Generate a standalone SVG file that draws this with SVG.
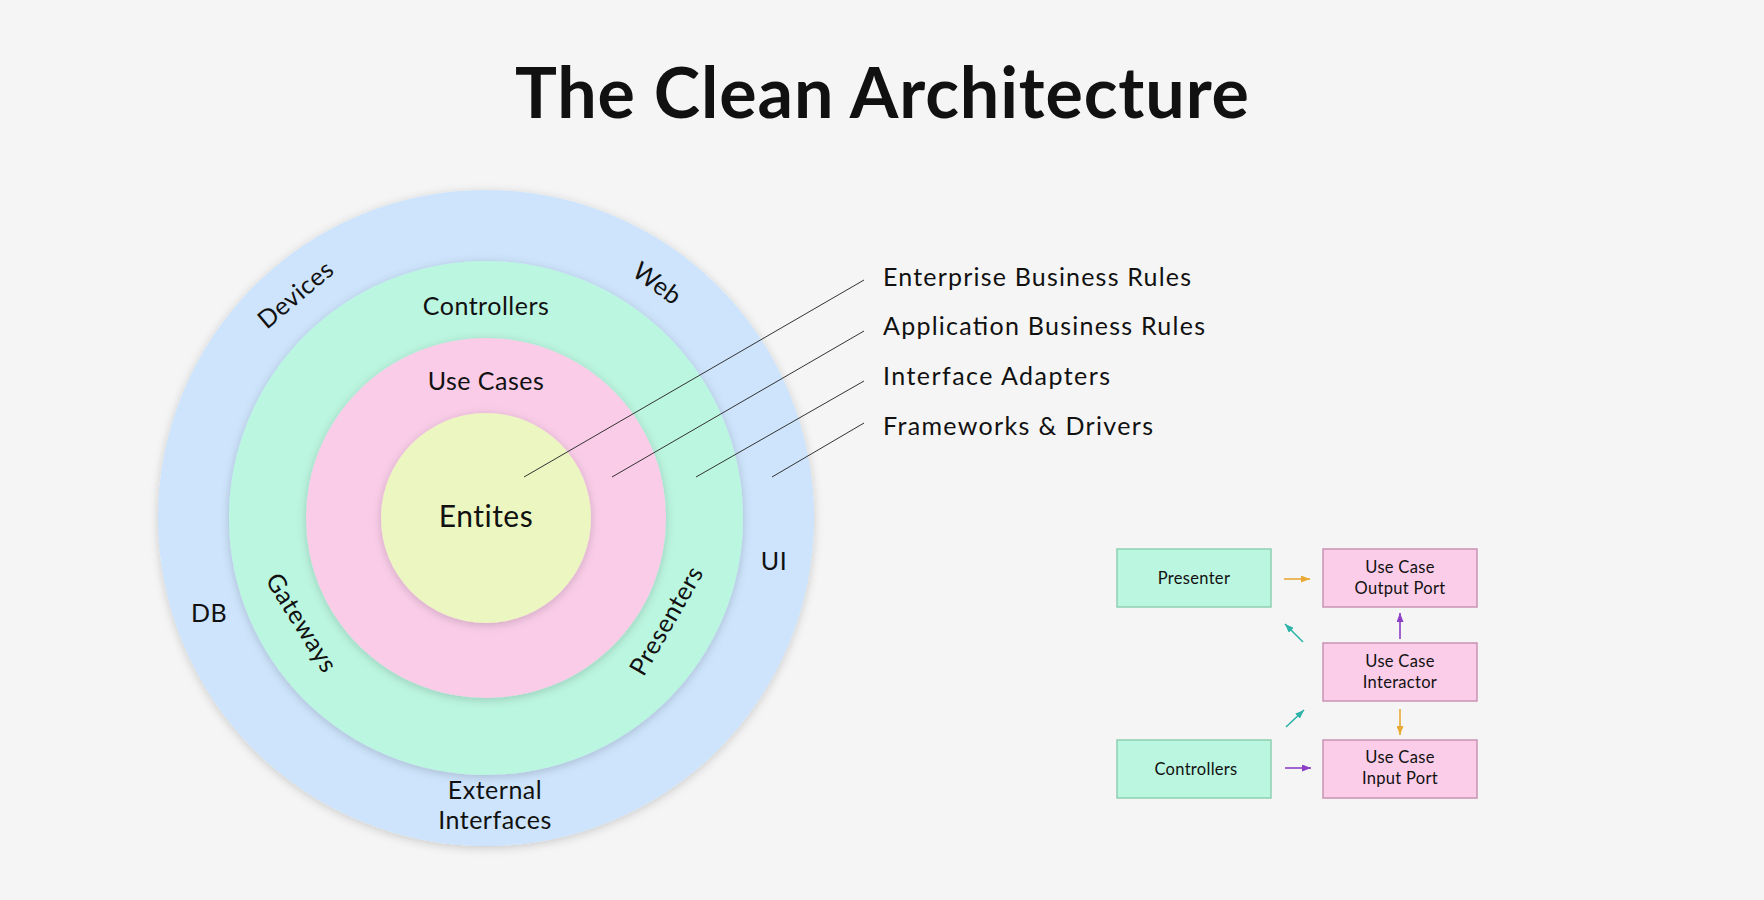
<svg xmlns="http://www.w3.org/2000/svg" width="1764" height="900" viewBox="0 0 1764 900">
<defs>
<filter id="sh" x="-20%" y="-20%" width="140%" height="140%">
<feDropShadow dx="0" dy="2" stdDeviation="5" flood-color="#000" flood-opacity="0.18"/>
</filter>
<marker id="aO" markerUnits="userSpaceOnUse" markerWidth="9" markerHeight="7" refX="9" refY="3.5" orient="auto"><path d="M0,0 L9,3.5 L0,7 z" fill="#eaa935"/></marker>
<marker id="aP" markerUnits="userSpaceOnUse" markerWidth="9" markerHeight="7" refX="9" refY="3.5" orient="auto"><path d="M0,0 L9,3.5 L0,7 z" fill="#8c3fc6"/></marker>
<marker id="aT" markerUnits="userSpaceOnUse" markerWidth="9" markerHeight="7" refX="9" refY="3.5" orient="auto"><path d="M0,0 L9,3.5 L0,7 z" fill="#2db3a7"/></marker>
</defs>
<style>
text{font-family:Lato,"Open Sans","Liberation Sans",sans-serif;fill:#111}
.t{font-size:70px;font-weight:700;text-anchor:middle}
.c{font-size:25px;letter-spacing:0.5px;text-anchor:middle}
.r{font-size:25px}
.b{font-size:16.5px;letter-spacing:0.3px;text-anchor:middle}
.gb{fill:#bbf6e0;stroke:#8ecfb3;stroke-width:1.5}
.pb{fill:#fbcde9;stroke:#c894b4;stroke-width:1.5}
.ln{stroke:#333;stroke-width:1;fill:none}
.o{stroke:#eaa935;stroke-width:1.6;marker-end:url(#aO)}
.p{stroke:#8c3fc6;stroke-width:1.6;marker-end:url(#aP)}
.tl{stroke:#2db3a7;stroke-width:1.6;marker-end:url(#aT)}
</style>
<rect width="1764" height="900" fill="#f5f5f5"/>
<text class="t" x="882" y="118" textLength="734" lengthAdjust="spacing">The Clean Architecture</text>

<g id="frameworks-drivers">
<circle cx="486" cy="518" r="328" fill="#cde4fc" filter="url(#sh)"/>
<text class="c" transform="translate(296,295) rotate(-40)" y="8">Devices</text>
<text class="c" transform="translate(657,284) rotate(36)" y="8">Web</text>
<text class="c" x="774" y="570">UI</text>
<text class="c" x="209" y="622">DB</text>
<text class="c" x="495" y="799">External</text>
<text class="c" x="495" y="829">Interfaces</text>
</g>
<g id="interface-adapters">
<circle cx="486" cy="518" r="257" fill="#bbf6e0" filter="url(#sh)"/>
<text class="c" x="486" y="315">Controllers</text>
<text class="c" transform="translate(301,623) rotate(58)" y="8">Gateways</text>
<text class="c" transform="translate(667,621) rotate(-60)" y="8">Presenters</text>
</g>
<g id="application-business-rules">
<circle cx="486" cy="518" r="180" fill="#facce8" filter="url(#sh)"/>
<text class="c" x="486" y="390">Use Cases</text>
</g>
<g id="enterprise-business-rules">
<circle cx="486" cy="518" r="105" fill="#ebf6c0" filter="url(#sh)"/>
<text class="c" x="486" y="527" style="font-size:30px">Entites</text>
</g>

<g id="layer-labels">
<text class="r" x="883" y="286" textLength="308" lengthAdjust="spacing">Enterprise Business Rules</text>
<text class="r" x="883" y="335" textLength="322" lengthAdjust="spacing">Application Business Rules</text>
<text class="r" x="883" y="385" textLength="227" lengthAdjust="spacing">Interface Adapters</text>
<text class="r" x="883" y="435" textLength="270" lengthAdjust="spacing">Frameworks &amp; Drivers</text>
</g>

<g id="presenter"><rect class="gb" x="1117" y="549" width="154" height="58"/><text class="b" x="1194" y="584">Presenter</text></g>
<g id="controllers"><rect class="gb" x="1117" y="740" width="154" height="58"/><text class="b" x="1196" y="775">Controllers</text></g>
<g id="output-port"><rect class="pb" x="1323" y="549" width="154" height="58"/><text class="b" x="1400" y="573">Use Case</text><text class="b" x="1400" y="594">Output Port</text></g>
<g id="interactor"><rect class="pb" x="1323" y="643" width="154" height="58"/><text class="b" x="1400" y="667">Use Case</text><text class="b" x="1400" y="688">Interactor</text></g>
<g id="input-port"><rect class="pb" x="1323" y="740" width="154" height="58"/><text class="b" x="1400" y="763">Use Case</text><text class="b" x="1400" y="784">Input Port</text></g>

<g id="connectors">
<line class="ln" x1="524" y1="477" x2="864" y2="280"/>
<line class="ln" x1="612" y1="477" x2="864" y2="331"/>
<line class="ln" x1="696" y1="477" x2="864" y2="381"/>
<line class="ln" x1="772" y1="477" x2="864" y2="423"/>
<line class="o" x1="1284" y1="579" x2="1310" y2="579"/>
<line class="p" x1="1400" y1="639" x2="1400" y2="613"/>
<line class="tl" x1="1303" y1="642" x2="1285" y2="624"/>
<line class="tl" x1="1286" y1="727" x2="1304" y2="710"/>
<line class="o" x1="1400" y1="709" x2="1400" y2="735"/>
<line class="p" x1="1285" y1="768" x2="1311" y2="768"/>
</g>
</svg>
